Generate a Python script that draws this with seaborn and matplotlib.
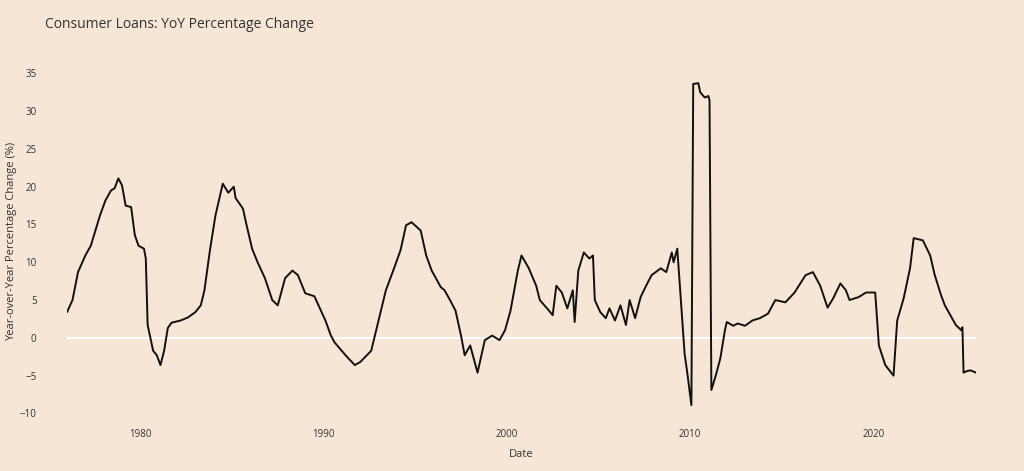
import matplotlib
matplotlib.use("Agg")
import matplotlib.pyplot as plt
import seaborn as sns
import pandas as pd

years = [1976.0,1976.3,1976.6,1977.0,1977.3,1977.8,1978.1,1978.4,1978.6,1978.8,1979.0,1979.2,1979.5,1979.7,1979.9,
         1980.2,1980.3,1980.4,1980.7,1980.9,1981.1,1981.3,1981.5,1981.7,1982.2,1982.6,1983.0,1983.3,1983.5,1983.8,
         1984.1,1984.5,1984.8,1985.1,1985.2,1985.6,1985.8,1986.1,1986.4,1986.8,1987.2,1987.5,1987.9,1988.3,1988.6,
         1989.0,1989.5,1990.1,1990.4,1990.6,1991.2,1991.7,1992.0,1992.6,1993.0,1993.4,1993.8,1994.2,1994.5,1994.8,
         1995.3,1995.6,1995.9,1996.4,1996.6,1996.9,1997.2,1997.5,1997.7,1998.0,1998.4,1998.8,1999.2,1999.6,1999.9,
         2000.2,2000.6,2000.8,2001.2,2001.6,2001.8,2002.3,2002.5,2002.7,2003.0,2003.3,2003.6,2003.7,2003.9,2004.2,
         2004.5,2004.7,2004.8,2005.1,2005.4,2005.6,2005.9,2006.2,2006.5,2006.7,2007.0,2007.3,2007.6,2007.9,2008.4,
         2008.7,2009.0,2009.1,2009.3,2009.6,2009.7,2009.85,2010.07,2010.17,2010.45,2010.55,2010.8,2011.0,2011.06,
         2011.16,2011.4,2011.65,2011.9,2012.0,2012.35,2012.6,2013.0,2013.4,2013.8,2014.25,2014.65,2015.2,2015.7,
         2016.3,2016.7,2017.1,2017.5,2017.8,2018.2,2018.5,2018.7,2019.2,2019.6,2020.1,2020.3,2020.65,2021.1,
         2021.3,2021.65,2022.0,2022.2,2022.7,2023.1,2023.35,2023.7,2023.9,2024.2,2024.5,2024.8,2024.86,2024.92,
         2025.1,2025.3,2025.6]
yoy_change = [3.4,5.0,8.7,10.9,12.2,16.2,18.2,19.5,19.8,21.1,20.2,17.5,17.3,13.6,12.2,
              11.8,10.5,1.7,-1.7,-2.3,-3.6,-1.7,1.3,2.0,2.3,2.7,3.4,4.3,6.3,11.6,
              16.2,20.4,19.2,20.0,18.5,17.1,14.9,11.8,10.0,7.9,5.0,4.3,7.9,8.9,8.3,
              5.9,5.5,2.3,0.3,-0.6,-2.3,-3.6,-3.2,-1.7,2.3,6.3,8.9,11.6,14.9,15.3,
              14.2,10.9,8.9,6.7,6.3,5.0,3.6,0.3,-2.3,-1.0,-4.6,-0.3,0.3,-0.3,1.0,
              3.6,8.9,10.9,9.2,6.9,5.0,3.6,3.0,6.9,6.0,3.9,6.3,2.1,8.9,11.3,
              10.5,10.9,5.0,3.4,2.6,3.9,2.3,4.3,1.7,5.0,2.6,5.4,6.9,8.3,9.2,
              8.7,11.3,10.0,11.8,1.4,-2.1,-4.7,-8.9,33.6,33.7,32.5,31.8,32.0,31.4,
              -6.9,-5.0,-2.7,1.0,2.1,1.6,1.9,1.6,2.3,2.6,3.2,5.0,4.7,6.0,
              8.3,8.7,6.9,4.0,5.2,7.2,6.3,5.0,5.4,6.0,6.0,-1.0,-3.6,-5.0,
              2.3,5.2,9.2,13.2,12.9,10.9,8.3,5.6,4.3,3.0,1.7,1.0,1.4,-4.6,
              -4.4,-4.3,-4.6]

df = pd.DataFrame({"Date": years, "YoY": yoy_change})

sns.set_theme(style="white")
plt.rcParams['font.family'] = ['Open Sans', 'DejaVu Sans']
bg = "#f5e6d6"
fig = plt.figure(figsize=(10.24, 4.71), dpi=100, facecolor=bg)
ax = fig.add_axes([67/1024, 1-421/471, (976-67)/1024, (421-62)/471])
ax.set_facecolor(bg)
ax.axhline(0, color="white", lw=1.5, zorder=1)
sns.lineplot(data=df, x="Date", y="YoY", color="#111111", lw=1.4, ax=ax, zorder=2)
ax.set_xlim(1976.0, 2025.6)
ax.set_ylim(-11.0, 36.5)
ax.set_xticks([1980, 1990, 2000, 2010, 2020])
ax.set_yticks(list(range(-10, 36, 5)))
ax.tick_params(labelsize=7, colors="#333333", length=0)
ax.tick_params(axis="x", pad=6)
ax.tick_params(axis="y", pad=22)
for s in ax.spines.values():
    s.set_visible(False)
ax.set_xlabel("Date", fontsize=8, color="#333333", labelpad=6)
ax.set_ylabel("Year-over-Year Percentage Change (%)", fontsize=8, color="#333333", labelpad=2)
fig.text(45/1024, 1-25/471, "Consumer Loans: YoY Percentage Change", fontsize=10, color="#333333", va="center")
fig.savefig("out.png", dpi=100, facecolor=bg)
